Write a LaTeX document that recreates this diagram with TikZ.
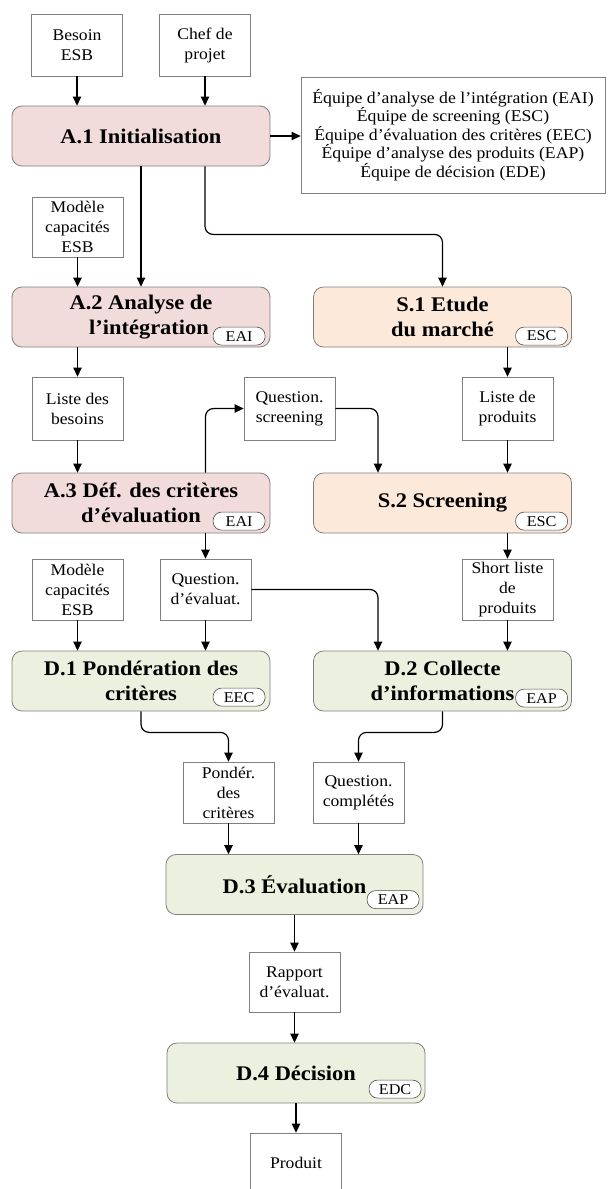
\documentclass[tikz,border=0pt]{standalone}
\usepackage{fontspec}
\setmainfont{Liberation Serif}[FakeStretch=1.08]
\usetikzlibrary{arrows.meta}
\definecolor{procA}{HTML}{F2DCDB}
\definecolor{procS}{HTML}{FDE9D9}
\definecolor{procD}{HTML}{EBF1DE}
\definecolor{edge}{HTML}{808080}
\begin{document}
\begin{tikzpicture}[x=1pt,y=-1pt,
  doc/.style={draw=edge, line width=0.8pt, fill=white, minimum width=91pt,
    minimum height=62pt, inner sep=0pt, align=center,
    font=\fontsize{16.3}{20}\selectfont},
  proc/.style={draw=edge, line width=0.8pt, rounded corners=10pt,
    minimum width=258pt, minimum height=60pt, inner sep=0pt, align=center,
    font=\fontsize{20.8}{25}\selectfont\bfseries},
  teambox/.style={draw=edge, line width=0.8pt, fill=white, minimum width=304pt,
    minimum height=116pt, inner sep=0pt, align=center,
    font=\fontsize{16.4}{16.8}\selectfont},
  tag/.style={draw=black!70, line width=0.6pt, fill=white, rounded corners=8.5pt,
    minimum width=52pt, minimum height=18pt, inner sep=0pt,
    font=\fontsize{15}{15}\selectfont, anchor=south east},
  arr/.style={line width=1.2pt, -{Triangle[length=9pt,width=8.5pt]},
    rounded corners=8pt},
]
\useasboundingbox (0,0) rectangle (611,1189);

% inputs of the initialisation
\node[doc] (besoin) at (77,45) {Besoin\\ESB};
\node[doc] (chef) at (205,45) {Chef de\\projet};
\node[proc, fill=procA] (A1) at (141,136) {A.1 Initialisation};
\node[teambox] (team) at (453,135) {Équipe d’analyse de l’intégration (EAI)\\
  Équipe de screening (ESC)\\Équipe d’évaluation des critères (EEC)\\
  Équipe d’analyse des produits (EAP)\\Équipe de décision (EDE)};

% analysis and market branches
\node[doc, minimum height=60pt] (mod1) at (77.5,227) {Modèle\\capacités\\ESB};
\node[proc, fill=procA] (A2) at (141,317) {A.2 Analyse de\\\hspace*{16pt}l’intégration};
\node[proc, fill=procS] (S1) at (442.5,317) {S.1 Etude\\du marché};
\node[doc, minimum height=63pt] (lb) at (77.5,408.5) {Liste des\\besoins};
\node[doc, minimum height=63pt] (qs) at (289.5,408.5) {Question.\\screening};
\node[doc, minimum height=63pt] (lp) at (507.5,408.5) {Liste de\\produits};
\node[proc, fill=procA] (A3) at (141,503) {A.3 Déf. des critères\\d’évaluation};
\node[proc, fill=procS] (S2) at (442.5,503) {S.2 Screening};

% decision branch
\node[doc, minimum height=61pt] (mod2) at (77.5,589.5) {Modèle\\capacités\\ESB};
\node[doc, minimum height=61pt] (qe) at (205.5,589.5) {Question.\\d’évaluat.};
\node[doc, minimum height=61pt] (sl) at (507.5,589.5) {Short liste\\de\\produits};
\node[proc, fill=procD] (D1) at (141,681) {D.1 Pondération des\\critères};
\node[proc, fill=procD] (D2) at (442.5,681) {D.2 Collecte\\d’informations};
\node[doc, minimum height=61pt] (pc) at (228.5,792.5) {Pondér.\\des\\critères};
\node[doc, minimum height=61pt] (qc) at (358.5,792.5) {Question.\\complétés};
\node[proc, fill=procD, minimum width=257pt] (D3) at (294.5,884.5) {D.3 Évaluation};
\node[doc, minimum height=60pt] (rap) at (294.5,982) {Rapport\\d’évaluat.};
\node[proc, fill=procD] (D4) at (296,1073) {D.4 Décision};
\node[doc, minimum height=60pt] (prod) at (296,1163) {Produit};

% team tags
\node[tag] (tA2) at ([xshift=-5pt,yshift=2pt]A2.south east) {EAI};
\node[tag] (tS1) at ([xshift=-4pt,yshift=2pt]S1.south east) {ESC};
\node[tag] (tA3) at ([xshift=-5pt,yshift=3pt]A3.south east) {EAI};
\node[tag] (tS2) at ([xshift=-4pt,yshift=3pt]S2.south east) {ESC};
\node[tag] (tD1) at ([xshift=-5pt,yshift=5pt]D1.south east) {EEC};
\node[tag] (tD2) at ([xshift=-4pt,yshift=4pt]D2.south east) {EAP};
\node[tag] (tD3) at ([xshift=-4pt,yshift=6pt]D3.south east) {EAP};
\node[tag] (tD4) at ([xshift=-4pt,yshift=5pt]D4.south east) {EDC};

% connectors
\draw[arr] (besoin.south) -- (besoin.south |- A1.north);
\draw[arr] (chef.south) -- (chef.south |- A1.north);
\draw[arr] (A1.east) -- (A1.east -| team.west);
\draw[arr] (A1.south) -- (A2.north);
\draw[arr] (A1.south -| chef.south) -- ++(0,68) -| (S1.north);
\draw[arr] (mod1.south) -- (mod1.south |- A2.north);
\draw[arr] (lb.north |- A2.south) -- (lb.north);
\draw[arr] (lp.north |- S1.south) -- (lp.north);
\draw[arr] (lb.south) -- (lb.south |- A3.north);
\draw[arr] (lp.south) -- (lp.south |- S2.north);
\draw[arr] (qe.north |- A3.north) |- (qs.west);
\draw[arr] (qs.east) -| ([xshift=-64.5pt]S2.north);
\draw[arr] (qe.north |- A3.south) -- (qe.north);
\draw[arr] (sl.north |- S2.south) -- (sl.north);
\draw[arr] (mod2.south) -- (mod2.south |- D1.north);
\draw[arr] (qe.south) -- (qe.south |- D1.north);
\draw[arr] (sl.south) -- (sl.south |- D2.north);
\draw[arr] (qe.east) -| ([xshift=-64.5pt]D2.north);
\draw[arr] (D1.south) -- ++(0,21) -| (pc.north);
\draw[arr] (D2.south) -- ++(0,21) -| (qc.north);
\draw[arr] (pc.south) -- (pc.south |- D3.north);
\draw[arr] (qc.south) -- (qc.south |- D3.north);
\draw[arr] (D3.south) -- (rap.north);
\draw[arr] (rap.south) -- (rap.south |- D4.north);
\draw[arr] (D4.south) -- (prod.north);
\end{tikzpicture}
\end{document}
